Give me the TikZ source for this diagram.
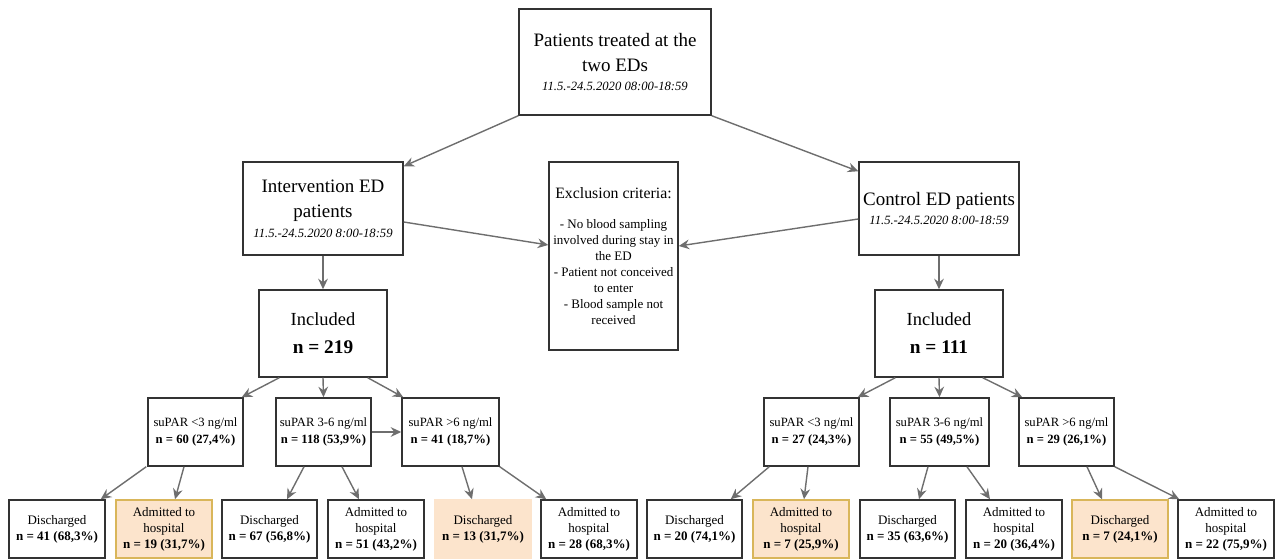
\documentclass[tikz,border=0pt]{standalone}
\usepackage{fontspec}
\setmainfont{Liberation Serif}
\usepackage{tikz}
\usetikzlibrary{arrows.meta, calc}

\definecolor{boxcol}{HTML}{333333}
\definecolor{arrcol}{HTML}{6E6E6E}
\definecolor{hotfill}{HTML}{FCE4CC}
\definecolor{hotline}{HTML}{D9B65A}

\newcommand{\bigtxt}{\fontsize{10.8}{14.2}\selectfont}
\newcommand{\datetxt}{\fontsize{7.2}{9}\selectfont\itshape}
\newcommand{\midtxt}{\fontsize{10.5}{16}\selectfont}
\newcommand{\smalltxt}{\fontsize{7.2}{9.6}\selectfont}
\newcommand{\listtxt}{\fontsize{7.4}{9.1}\selectfont}

\tikzset{
	box/.style={draw=boxcol, line width=0.85pt, fill=white, align=center, inner sep=0pt},
	hot/.style={box, draw=hotline, fill=hotfill},
	hotbare/.style={box, draw=hotfill, fill=hotfill},
	arr/.style={draw=arrcol, line width=0.8pt, -{Stealth[length=6pt,width=5.5pt,inset=2pt]}},
}

\begin{document}
\begin{tikzpicture}[x=0.02cm, y=-0.02cm]
				\useasboundingbox (0, 0) rectangle (1275, 560);
				
				\node[box, minimum width=3.84cm, minimum height=2.12cm, font=\bigtxt] (top) at (615, 62)
					{Patients treated at the\\two EDs\\[-3pt]{\datetxt 11.5.-24.5.2020 08:00-18:59}};
				\node[box, minimum width=3.2cm, minimum height=1.86cm, font=\bigtxt] (intv) at (323, 208.5)
					{Intervention ED\\patients\\[-3pt]{\datetxt 11.5.-24.5.2020 8:00-18:59}};
				\node[box, minimum width=3.2cm, minimum height=1.86cm, font=\bigtxt] (ctrl) at (939, 208.5)
					{Control ED patients\\[-3pt]{\datetxt 11.5.-24.5.2020 8:00-18:59}};
				\node[box, minimum width=2.58cm, minimum height=3.76cm, font=\listtxt] (excl) at (613.5, 256)
					{{\fontsize{9}{11}\selectfont Exclusion criteria:}\\[8pt]
					- No blood sampling\\involved during stay in\\the ED\\- Patient not conceived\\to enter\\- Blood sample not\\received};
				
				\node[box, minimum width=2.56cm, minimum height=1.74cm, font=\midtxt] (incL) at (323, 333.5)
					{Included\\{\fontsize{11}{16}\selectfont\bfseries n = 219}};
				\node[box, minimum width=2.56cm, minimum height=1.74cm, font=\midtxt] (incR) at (939, 333.5)
					{Included\\{\fontsize{11}{16}\selectfont\bfseries n = 111}};
				
				\node[box, minimum width=1.9cm, minimum height=1.36cm, font=\smalltxt] (sL1) at (195.5, 432)
					{suPAR <3 ng/ml\\\textbf{n = 60 (27,4\%)}};
				\node[box, minimum width=1.9cm, minimum height=1.36cm, font=\smalltxt] (sL2) at (323.5, 432)
					{suPAR 3-6 ng/ml\\\textbf{n = 118 (53,9\%)}};
				\node[box, minimum width=1.94cm, minimum height=1.36cm, font=\smalltxt] (sL3) at (450.5, 432)
					{suPAR >6 ng/ml\\\textbf{n = 41 (18,7\%)}};
				\node[box, minimum width=1.9cm, minimum height=1.36cm, font=\smalltxt] (sR1) at (811.5, 432)
					{suPAR <3 ng/ml\\\textbf{n = 27 (24,3\%)}};
				\node[box, minimum width=1.98cm, minimum height=1.36cm, font=\smalltxt] (sR2) at (939.5, 432)
					{suPAR 3-6 ng/ml\\\textbf{n = 55 (49,5\%)}};
				\node[box, minimum width=1.9cm, minimum height=1.36cm, font=\smalltxt] (sR3) at (1066.5, 432)
					{suPAR >6 ng/ml\\\textbf{n = 29 (26,1\%)}};
				
				\node[box, minimum width=1.92cm, minimum height=1.16cm, font=\listtxt] (d1) at (57, 529)
					{Discharged\\\textbf{n = 41 (68,3\%)}};
				\node[hot, minimum width=1.92cm, minimum height=1.16cm, font=\listtxt] (d2) at (164, 529)
					{Admitted to\\hospital\\\textbf{n = 19 (31,7\%)}};
				\node[box, minimum width=1.9cm, minimum height=1.16cm, font=\listtxt] (d3) at (269.5, 529)
					{Discharged\\\textbf{n = 67 (56,8\%)}};
				\node[box, minimum width=1.92cm, minimum height=1.16cm, font=\listtxt] (d4) at (376, 529)
					{Admitted to\\hospital\\\textbf{n = 51 (43,2\%)}};
				\node[hotbare, minimum width=1.92cm, minimum height=1.16cm, font=\listtxt] (d5) at (483, 529)
					{Discharged\\\textbf{n = 13 (31,7\%)}};
				\node[box, minimum width=1.92cm, minimum height=1.16cm, font=\listtxt] (d6) at (589, 529)
					{Admitted to\\hospital\\\textbf{n = 28 (68,3\%)}};
				\node[box, minimum width=1.9cm, minimum height=1.16cm, font=\listtxt] (d7) at (694.5, 529)
					{Discharged\\\textbf{n = 20 (74,1\%)}};
				\node[hot, minimum width=1.92cm, minimum height=1.16cm, font=\listtxt] (d8) at (801, 529)
					{Admitted to\\hospital\\\textbf{n = 7 (25,9\%)}};
				\node[box, minimum width=1.9cm, minimum height=1.16cm, font=\listtxt] (d9) at (907.5, 529)
					{Discharged\\\textbf{n = 35 (63,6\%)}};
				\node[box, minimum width=1.92cm, minimum height=1.16cm, font=\listtxt] (d10) at (1014, 529)
					{Admitted to\\hospital\\\textbf{n = 20 (36,4\%)}};
				\node[hot, minimum width=1.92cm, minimum height=1.16cm, font=\listtxt] (d11) at (1120, 529)
					{Discharged\\\textbf{n = 7 (24,1\%)}};
				\node[box, minimum width=1.92cm, minimum height=1.16cm, font=\listtxt] (d12) at (1226, 529)
					{Admitted to\\hospital\\\textbf{n = 22 (75,9\%)}};
				
				\draw[arr] (top.south west) -- ($(intv.north east)+(0, 5)$);
				\draw[arr] (top.south east) -- ($(ctrl.north west)+(0, 10)$);
				\draw[arr] ($(intv.east)+(0, 13.5)$) -- ($(excl.west)+(0, -11)$);
				\draw[arr] ($(ctrl.west)+(0, 10.5)$) -- ($(excl.east)+(0, -10)$);
				\draw[arr] (intv.south) -- (incL.north);
				\draw[arr] (ctrl.south) -- (incR.north);
				
				\draw[arr] ($(incL.south west)+(21, 0)$) -- ($(sL1.north east)+(-2, 0)$);
				\draw[arr] (incL.south) -- (sL2.north);
				\draw[arr] ($(incL.south east)+(-20, 0)$) -- ($(sL3.north west)+(2, 0)$);
				\draw[arr] ($(incR.south west)+(21, 0)$) -- ($(sR1.north east)+(-2, 0)$);
				\draw[arr] (incR.south) -- (sR2.north);
				\draw[arr] ($(incR.south east)+(-21, 0)$) -- ($(sR3.north west)+(4, 0)$);
				\draw[arr] (sL2.east) -- (sL3.west);
				
				\draw[arr] ($(sL1.south west)+(-1, 0)$) -- ($(d1.north east)+(-5, 0)$);
				\draw[arr] ($(sL1.south)+(-11.5, 0)$) -- ($(d2.north)+(11, 0)$);
				\draw[arr] ($(sL2.south)+(-19.5, 0)$) -- ($(d3.north)+(17.5, 0)$);
				\draw[arr] ($(sL2.south)+(18.5, 0)$) -- ($(d4.north)+(-17, 0)$);
				\draw[arr] ($(sL3.south)+(11.5, 0)$) -- ($(d5.north)+(-11, 0)$);
				\draw[arr] (sL3.south east) -- ($(d6.north west)+(6, 0)$);
				\draw[arr] ($(sR1.south west)+(6, 0)$) -- ($(d7.north east)+(-12, 0)$);
				\draw[arr] ($(sR1.south)+(-3.5, 0)$) -- ($(d8.north)+(3, 0)$);
				\draw[arr] ($(sR2.south)+(-11.5, 0)$) -- ($(d9.north)+(11.5, 0)$);
				\draw[arr] ($(sR2.south)+(27.5, 0)$) -- ($(d10.north)+(-24, 0)$);
				\draw[arr] ($(sR3.south)+(20.5, 0)$) -- ($(d11.north)+(-18, 0)$);
				\draw[arr] (sR3.south east) -- ($(d12.north west)+(2, 0)$);
				\end{tikzpicture}
\end{document}
